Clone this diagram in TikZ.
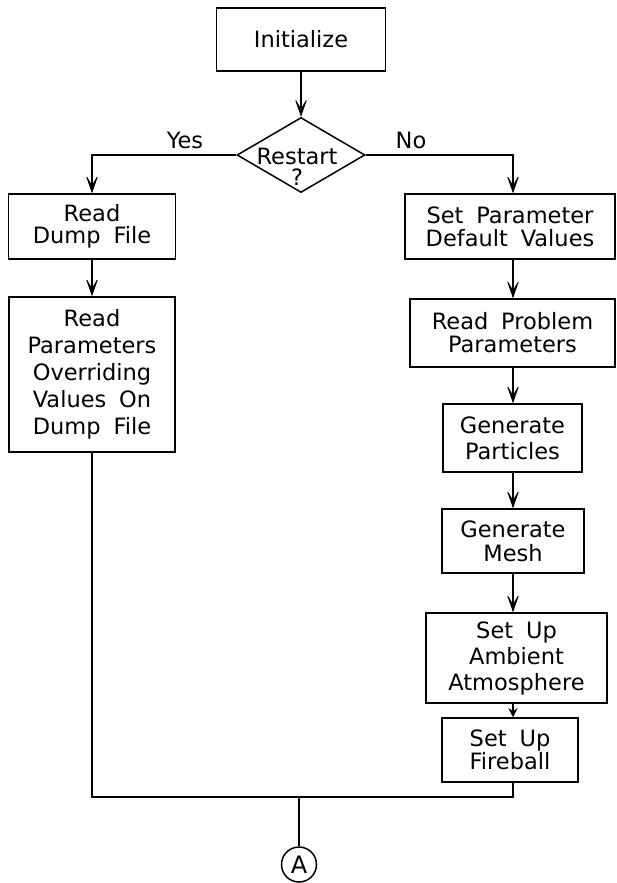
\documentclass[tikz,border=0pt]{standalone}
\usepackage{fontspec}
\setmainfont{DejaVu Sans}[WordSpace=1.8]
\usetikzlibrary{arrows.meta,shapes.geometric}
\begin{document}
\begin{tikzpicture}[x=1pt,y=-1pt,line width=1.5pt,
  box/.style={draw,rectangle,align=center,inner sep=0pt,font=\fontsize{22.5}{24}\selectfont},
  lbl/.style={font=\fontsize{22.5}{24}\selectfont},
  arr/.style={-{Stealth[length=20pt,width=14pt,inset=12pt,line width=0.8pt]}},
  smallarr/.style={-{Stealth[length=9pt,width=9pt]}}]
\useasboundingbox (0,0) rectangle (616,883);
% top
\node[box,minimum width=169pt,minimum height=63pt] (init) at (301,39.5) {Initialize};
\node[draw,diamond,minimum width=128pt,minimum height=75pt,inner sep=0pt] (rs) at (301,155) {};
\node[lbl,align=center,font=\fontsize{22.5}{21}\selectfont] (rstext) at (297,167) {Restart\\?};
\node[lbl] (yes) at (185,140) {Yes};
\node[lbl] (no) at (411,140) {No};
% left column
\node[box,minimum width=167pt,minimum height=65pt,font=\fontsize{22.5}{22}\selectfont] (rdf) at (92,226.5) {Read\\Dump File};
\node[box,minimum width=166pt,minimum height=155pt,font=\fontsize{22.5}{27}\selectfont] (rp) at (92,374.5) {Read\\Parameters\\Overriding\\Values On\\Dump File};
% right column
\coordinate (rx) at (513,0);
\node[box,minimum width=210pt,minimum height=65pt,font=\fontsize{22.5}{23}\selectfont] (spd) at (510,226.5) {Set Parameter\\Default Values};
\node[box,minimum width=205pt,minimum height=68pt,font=\fontsize{22.5}{23}\selectfont] (rpp) at (512.5,333) {Read Problem\\Parameters};
\node[box,minimum width=139pt,minimum height=68pt,font=\fontsize{22.5}{26}\selectfont] (gp) at (512.5,438) {Generate\\Particles};
\node[box,minimum width=142pt,minimum height=64pt] (gm) at (513,541) {Generate\\Mesh};
\node[box,minimum width=181pt,minimum height=90pt,font=\fontsize{22.5}{26}\selectfont] (sua) at (516.5,658) {Set Up\\Ambient\\Atmosphere};
\node[box,minimum width=136pt,minimum height=64pt,font=\fontsize{22.5}{20}\selectfont] (suf) at (510,750) {Set Up\\Fireball};
% connector A
\node[draw,circle,minimum size=35pt,inner sep=0pt,font=\fontsize{24}{24}\selectfont] (A) at (299,864.5) {A};
\coordinate (j) at (299,797);
% connectors
\draw[arr] (init.south) -- (rs.north);
\draw[arr] (rs.west) -| (rdf.north);
\draw[arr] (rs.east) -| (spd.north -| rx);
\draw[arr] (rdf.south) -- (rp.north);
\draw[arr] (spd.south -| rx) -- (rpp.north -| rx);
\draw[arr] (rpp.south -| rx) -- (gp.north -| rx);
\draw[arr] (gp.south -| rx) -- (gm.north -| rx);
\draw[arr] (gm.south -| rx) -- (sua.north -| rx);
\draw[smallarr] (sua.south -| rx) -- (suf.north -| rx);
\draw (rp.south) -- (rp.south |- j) -- (j -| rx) -- (suf.south -| rx);
\draw (j) -- (A.north);
\end{tikzpicture}
\end{document}
